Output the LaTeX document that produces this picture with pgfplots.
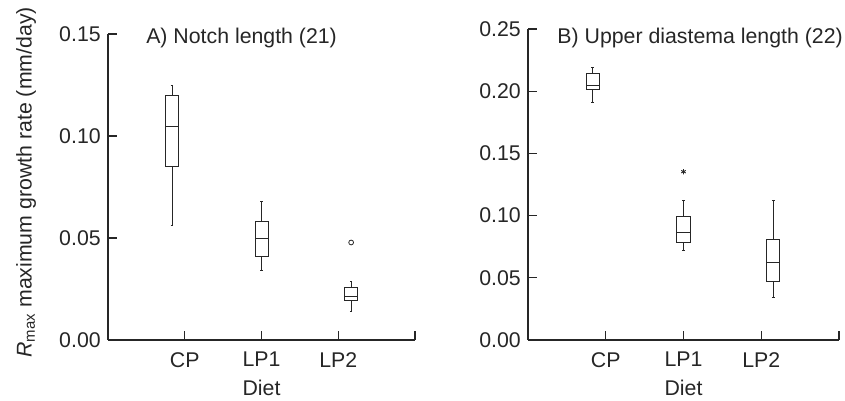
\documentclass[border=0pt]{standalone}
\usepackage{pgfplots}
\pgfplotsset{compat=1.18}
\usepgfplotslibrary{statistics}
\usepackage{fontspec}
\setmainfont{Liberation Sans}
\definecolor{ink}{gray}{0.15}
\begin{document}
\fontsize{21.3}{25}\selectfont
\begin{tikzpicture}
\useasboundingbox (0pt,0pt) rectangle (845pt,401pt);
\pgfplotsset{
  panel/.style={
    scale only axis,
    axis x line*=bottom, axis y line*=left,
    axis line style={ink, line width=1.1pt},
    every tick/.style={ink, line width=1.1pt},
    tick align=inside,
    major tick length=9pt,
    xmin=0, xmax=4,
    xtick={1,2,3,4}, xticklabels={CP,LP1,LP2,{}},
    ticklabel style={font=\fontsize{21.3}{25}\selectfont, text=ink},
    xticklabel style={yshift=-5pt},
    label style={font=\fontsize{21.3}{25}\selectfont, text=ink},
    xlabel={Diet},
    clip=false,
    boxplot/draw direction=y,
  },
  bx/.style={ink, line width=1pt, solid},
}
\begin{axis}[panel,
  at={(108pt,61pt)}, anchor=south west,
  width=307pt, height=306pt,
  ymin=0, ymax=0.15,
  ytick={0,0.05,0.1,0.15}, yticklabels={0.00,0.05,0.10,0.15},
  xlabel style={at={(rel axis cs:0.5,-0.18)}, anchor=base},
  ylabel={\textit{R}\textsubscript{max} maximum growth rate (mm/day)},
  ylabel style={at={(rel axis cs:-0.2485,0.515)}, anchor=base},
]
\addplot[bx, boxplot prepared={draw position=0.834,
  lower whisker=0.0563, lower quartile=0.0852, median=0.1045,
  upper quartile=0.1198, upper whisker=0.1249, box extend=0.17, whisker extend=0.035}] coordinates {};
\addplot[bx, boxplot prepared={draw position=2.004,
  lower whisker=0.0339, lower quartile=0.0408, median=0.0498,
  upper quartile=0.0581, upper whisker=0.0680, box extend=0.17, whisker extend=0.035}] coordinates {};
\addplot[bx, mark=o, mark size=2.4pt, mark options={ink, line width=0.8pt},
  boxplot prepared={draw position=3.168,
  lower whisker=0.0142, lower quartile=0.0192, median=0.0215,
  upper quartile=0.0256, upper whisker=0.0289, box extend=0.17, whisker extend=0.035}] table[row sep=\\, y index=0] {0.0478\\};
\node[anchor=base west, text=ink, inner sep=0pt] at (rel axis cs:0.124,0.97) {A) Notch length (21)};
\end{axis}
\begin{axis}[panel,
  at={(528pt,61pt)}, anchor=south west,
  width=311pt, height=311pt,
  ymin=0, ymax=0.25,
  ytick={0,0.05,0.1,0.15,0.2,0.25}, yticklabels={0.00,0.05,0.10,0.15,0.20,0.25},
  xlabel style={at={(rel axis cs:0.5,-0.177)}, anchor=base},
]
\addplot[bx, boxplot prepared={draw position=0.832,
  lower whisker=0.1908, lower quartile=0.2015, median=0.2047,
  upper quartile=0.2144, upper whisker=0.2189, box extend=0.17, whisker extend=0.035}] coordinates {};
\addplot[bx, mark=asterisk, mark size=2.6pt, mark options={ink, line width=0.9pt},
  boxplot prepared={draw position=2.0,
  lower whisker=0.0718, lower quartile=0.0785, median=0.0866,
  upper quartile=0.0991, upper whisker=0.1125, box extend=0.17, whisker extend=0.035}] table[row sep=\\, y index=0] {0.1353\\};
\addplot[bx, boxplot prepared={draw position=3.153,
  lower whisker=0.0343, lower quartile=0.0469, median=0.0624,
  upper quartile=0.0809, upper whisker=0.1125, box extend=0.17, whisker extend=0.035}] coordinates {};
\node[anchor=base west, text=ink, inner sep=0pt] at (rel axis cs:0.094,0.954) {B) Upper diastema length (22)};
\end{axis}
\end{tikzpicture}
\end{document}
